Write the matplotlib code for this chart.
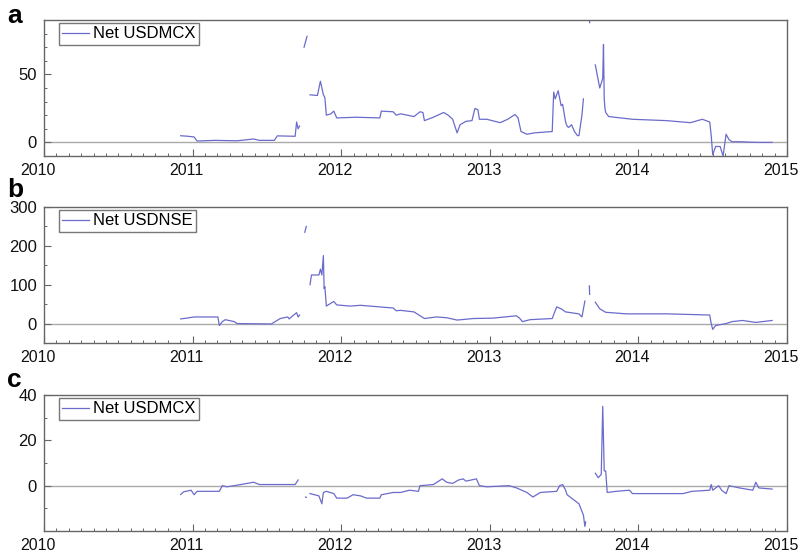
import numpy as np
import matplotlib
matplotlib.use("Agg")
import matplotlib.pyplot as plt
import matplotlib.transforms as mtransforms
from matplotlib.ticker import MultipleLocator

plt.rcParams['font.family'] = ['Liberation Sans', 'DejaVu Sans']

nan = np.nan

# panel a: Net USDMCX (decimal year, value); nan marks a gap
a_years = [2010.92, 2010.97, 2011.01, 2011.03, 2011.15, 2011.30, 2011.41, 2011.45, 2011.55,
           2011.57, 2011.69, 2011.70, 2011.71, 2011.72, 2011.73,
           2011.75, 2011.77, 2011.78,
           2011.79, 2011.84, 2011.86, 2011.88, 2011.89, 2011.90, 2011.93, 2011.95, 2011.97,
           2012.10, 2012.26, 2012.27, 2012.35, 2012.37, 2012.40, 2012.49, 2012.53, 2012.55,
           2012.56, 2012.62, 2012.69, 2012.72, 2012.75, 2012.78, 2012.80, 2012.84, 2012.88,
           2012.90, 2012.92, 2012.93, 2012.98, 2013.07, 2013.12, 2013.17, 2013.19, 2013.21,
           2013.25, 2013.30, 2013.42, 2013.43, 2013.44, 2013.46, 2013.48, 2013.49, 2013.51,
           2013.52, 2013.53, 2013.55, 2013.57, 2013.59, 2013.60, 2013.62, 2013.63, 2013.65,
           2013.66,
           2013.67, 2013.672, 2013.68,
           2013.71, 2013.74, 2013.76, 2013.765, 2013.77, 2013.775, 2013.78, 2013.80, 2013.96,
           2014.19, 2014.35, 2014.43, 2014.48, 2014.49, 2014.50, 2014.52, 2014.55, 2014.57,
           2014.58, 2014.59, 2014.61, 2014.63, 2014.68, 2014.80, 2014.90]
a_vals = [4.9, 4.5, 4.0, 1.0, 1.5, 1.2, 2.5, 1.5, 1.5,
          4.8, 4.5, 15.0, 10.0, 12.0, nan,
          70.0, 78.0, nan,
          35.0, 34.5, 45.0, 35.0, 33.0, 20.0, 21.0, 23.0, 18.0,
          18.5, 18.0, 23.0, 22.5, 20.0, 21.0, 19.0, 22.5, 22.0,
          16.0, 18.5, 22.0, 20.0, 17.0, 7.0, 13.0, 15.5, 16.0,
          25.0, 24.0, 17.0, 17.0, 14.5, 17.0, 20.5, 18.0, 8.0,
          6.0, 7.0, 8.0, 37.0, 32.0, 38.0, 27.0, 28.0, 15.0,
          12.0, 11.0, 13.0, 8.0, 5.0, 5.0, 20.0, 32.0, nan,
          nan,
          95.0, 88.0, nan,
          57.0, 40.0, 47.0, 72.0, 32.0, 25.0, 22.0, 19.0, 17.0,
          16.0, 14.5, 17.0, 15.0, 5.0, -9.0, -3.0, -3.0, -10.0,
          -2.0, 6.0, 2.0, 0.5, 0.5, 0.0, 0.0]

# panel b: Net USDNSE
b_years = [2010.92, 2010.96, 2011.01, 2011.17, 2011.18, 2011.20, 2011.22, 2011.28, 2011.30,
           2011.53, 2011.59, 2011.64, 2011.65, 2011.68, 2011.70, 2011.71, 2011.72, 2011.73,
           2011.755, 2011.765, 2011.77,
           2011.79, 2011.80, 2011.85, 2011.86, 2011.87, 2011.88, 2011.885, 2011.89, 2011.90,
           2011.95, 2011.97, 2012.06, 2012.13, 2012.35, 2012.37, 2012.40, 2012.49, 2012.56,
           2012.64, 2012.71, 2012.78, 2012.89, 2013.02, 2013.18, 2013.20, 2013.22, 2013.27,
           2013.42, 2013.45, 2013.48, 2013.51, 2013.60, 2013.62, 2013.64, 2013.65,
           2013.67, 2013.672, 2013.68,
           2013.71, 2013.74, 2013.78, 2013.92, 2014.19, 2014.48, 2014.49, 2014.50, 2014.52,
           2014.59, 2014.63, 2014.70, 2014.79, 2014.90]
b_vals = [12.0, 14.0, 17.0, 17.0, -5.0, 5.0, 10.0, 5.0, 0.0,
          -1.0, 13.0, 17.0, 12.0, 22.0, 28.0, 17.0, 22.0, nan,
          235.0, 250.0, nan,
          100.0, 125.0, 125.0, 140.0, 125.0, 175.0, 90.0, 95.0, 45.0,
          57.0, 48.0, 45.0, 47.0, 40.0, 33.0, 34.0, 30.0, 13.0,
          17.0, 15.0, 9.0, 13.0, 14.0, 20.0, 14.0, 5.0, 10.0,
          13.0, 43.0, 38.0, 30.0, 25.0, 17.0, 58.0, nan,
          97.0, 75.0, nan,
          55.0, 38.0, 29.0, 25.0, 25.0, 22.0, 0.0, -15.0, -5.0,
          0.0, 5.0, 8.0, 3.0, 8.0]

# panel c: Net USDMCX
c_years = [2010.92, 2010.94, 2010.99, 2011.01, 2011.03, 2011.18, 2011.20, 2011.23, 2011.28,
           2011.41, 2011.45, 2011.69, 2011.71, 2011.72,
           2011.76, 2011.765, 2011.77,
           2011.79, 2011.85, 2011.87, 2011.88, 2011.90, 2011.95, 2011.97, 2012.04, 2012.08,
           2012.13, 2012.17, 2012.26, 2012.27, 2012.35, 2012.40, 2012.46, 2012.52, 2012.53,
           2012.62, 2012.68, 2012.71, 2012.75, 2012.79, 2012.82, 2012.84, 2012.91, 2012.93,
           2012.98, 2013.13, 2013.18, 2013.25, 2013.29, 2013.34, 2013.45, 2013.47, 2013.49,
           2013.51, 2013.52, 2013.56, 2013.60, 2013.63, 2013.64, 2013.645, 2013.65,
           2013.71, 2013.73, 2013.75, 2013.76, 2013.77, 2013.78, 2013.79, 2013.85, 2013.94,
           2013.96, 2014.00, 2014.30, 2014.36, 2014.48, 2014.49, 2014.50, 2014.54, 2014.56,
           2014.59, 2014.61, 2014.68, 2014.77, 2014.79, 2014.81, 2014.90]
c_vals = [-3.9, -2.7, -2.0, -4.0, -2.5, -2.5, 0.0, -0.5, 0.0,
          1.5, 0.5, 0.5, 2.5, nan,
          -5.0, -5.2, nan,
          -3.5, -4.5, -8.0, -3.0, -2.5, -3.5, -5.5, -5.5, -4.0,
          -4.5, -5.5, -5.5, -4.0, -3.0, -3.0, -2.0, -2.5, 0.0,
          0.5, 3.0, 1.5, 1.0, 2.5, 3.0, 2.0, 3.0, 0.0,
          -0.5, 0.0, -1.0, -3.0, -5.0, -3.0, -2.5, 0.0, 0.5,
          -2.0, -4.0, -6.0, -8.0, -13.0, -18.0, -16.0, nan,
          5.5, 3.5, 5.0, 35.0, 6.5, 6.5, -3.0, -2.5, -2.0,
          -3.5, -3.5, -3.5, -2.5, -2.0, 0.5, -2.0, 0.0, -2.0,
          -3.5, 0.0, -1.0, -2.0, 1.5, -1.0, -1.5]

panels = [
    ("a", "Net USDMCX", a_years, a_vals, (-10, 90), [0, 50], 10),
    ("b", "Net USDNSE", b_years, b_vals, (-50, 300), [0, 100, 200, 300], 50),
    ("c", "Net USDMCX", c_years, c_vals, (-20, 40), [0, 20, 40], 10),
]

W, H = 803, 555
fig = plt.figure(figsize=(W / 100, H / 100), dpi=100)
line_col = (0.42, 0.42, 0.80)
spine_col = "#666666"

tops = [20, 207, 395]          # axes top edge, pixels from figure top
tag_base = [23, 197, 387]      # baseline of the panel letter
h = 136
left = 44
w = 743

shift = mtransforms.ScaledTranslation(-6 / 100, 0, fig.dpi_scale_trans)

for (tag, name, xs, ys, ylim, yt, ymin), top, tb in zip(panels, tops, tag_base):
    ax = fig.add_axes([left / W, 1 - (top + h) / H, w / W, h / H])
    ax.axhline(0, color="#aaaaaa", lw=1.0, zorder=1)
    ax.plot(xs, ys, color=line_col, lw=0.9, label=name, zorder=2)
    ax.set_xlim(2010, 2015)
    ax.set_ylim(*ylim)
    ax.set_xticks(range(2010, 2016))
    ax.set_xticklabels([str(y) for y in range(2010, 2016)])
    ax.xaxis.set_minor_locator(MultipleLocator(1 / 12))
    ax.set_yticks(yt)
    ax.yaxis.set_minor_locator(MultipleLocator(ymin))
    ax.tick_params(which="both", direction="in", colors="#111111",
                   top=False, right=False)
    ax.tick_params(axis="x", labelsize=11.5)
    ax.tick_params(axis="y", labelsize=12)
    ax.tick_params(which="major", length=5, width=0.8, color=spine_col, pad=5)
    ax.tick_params(which="minor", length=2.5, width=0.7, color=spine_col)
    for lab in ax.get_xticklabels():
        lab.set_transform(lab.get_transform() + shift)
    for s in ax.spines.values():
        s.set_color(spine_col)
        s.set_linewidth(1.0)
    leg = ax.legend(loc="upper left", bbox_to_anchor=(15 / w, 1 - 3 / h),
                    fontsize=12, frameon=True, fancybox=False, borderaxespad=0,
                    handlelength=1.6, borderpad=0.2, handletextpad=0.25)
    leg.get_frame().set_edgecolor("#555555")
    leg.get_frame().set_linewidth(1.0)
    fig.text(7 / W, 1 - tb / H, tag, fontsize=19, fontweight="bold",
             va="baseline", ha="left")

fig.savefig("out.png", dpi=100)
